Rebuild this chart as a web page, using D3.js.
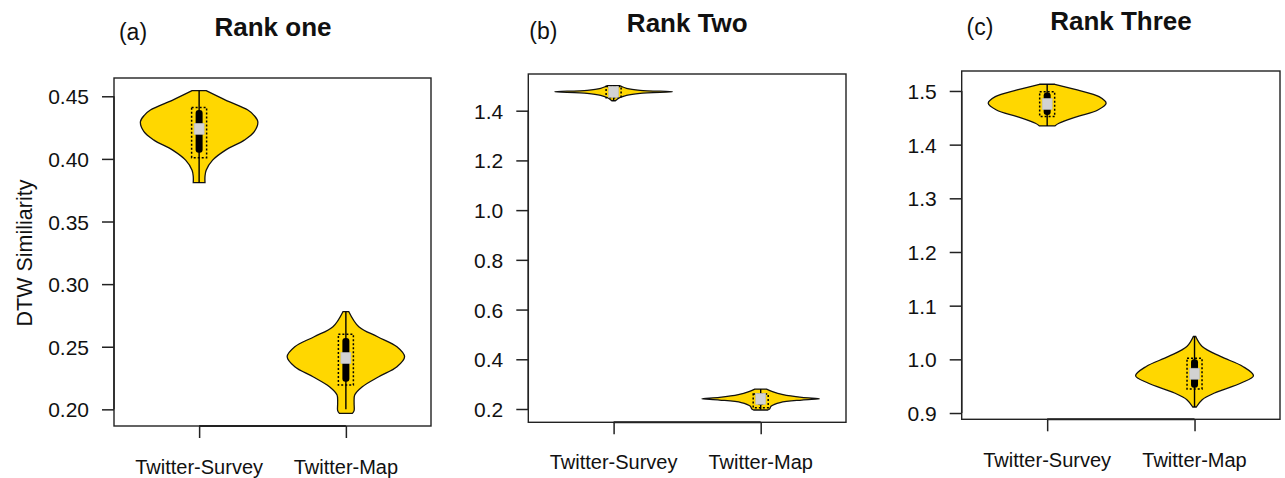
<!DOCTYPE html>
<html><head><meta charset="utf-8">
<script src="https://cdn.jsdelivr.net/npm/d3@7"></script>
<style>
body{margin:0;background:#fff}
svg{display:block}
text{font-family:"Liberation Sans",Arial,Helvetica,sans-serif;fill:#111}
</style>
</head><body>
<svg id="chart" width="1285" height="478"></svg>
<script>
// ---------------- data ----------------
const categories = ["Twitter-Survey", "Twitter-Map"];
const panelTags = ["(a)", "(b)", "(c)"];
const panelTitles = ["Rank one", "Rank Two", "Rank Three"];
const yAxisTitle = "DTW Similiarity";

const rankOneTicks = [0.20, 0.25, 0.30, 0.35, 0.40, 0.45];
const rankTwoTicks = [0.2, 0.4, 0.6, 0.8, 1.0, 1.2, 1.4];
const rankThreeTicks = [0.9, 1.0, 1.1, 1.2, 1.3, 1.4, 1.5];

// violin outlines: [value, relative density]
const rankOneSurveyDensity = [[0.381,0.10],[0.386,0.10],[0.391,0.12],[0.399,0.23],[0.407,0.45],[0.415,0.77],[0.4217,0.94],[0.4297,1.0],[0.435,0.93],[0.439,0.83],[0.447,0.45],[0.4545,0.12]];
const rankOneMapDensity = [[0.1968,0.11],[0.199,0.14],[0.205,0.14],[0.2114,0.15],[0.218,0.28],[0.226,0.56],[0.234,0.87],[0.242,1.0],[0.250,0.87],[0.258,0.54],[0.266,0.22],[0.278,0.05]];
const rankTwoSurveyDensity = [[1.440,0.03],[1.452,0.10],[1.462,0.22],[1.470,0.45],[1.476,1.0],[1.482,0.45],[1.490,0.22],[1.497,0.14],[1.501,0.10]];
const rankTwoMapDensity = [[0.196,0.12],[0.200,0.15],[0.212,0.18],[0.226,0.33],[0.236,0.7],[0.241,1.0],[0.247,0.7],[0.258,0.38],[0.270,0.2],[0.280,0.1]];
const rankThreeSurveyDensity = [[1.4349,0.13],[1.4398,0.2],[1.4522,0.51],[1.4646,0.86],[1.4771,1.0],[1.4894,0.88],[1.5019,0.51],[1.5125,0.13]];
const rankThreeMapDensity = [[0.9112,0.03],[0.9249,0.13],[0.9373,0.34],[0.9559,0.79],[0.9695,1.0],[0.9868,0.82],[1.0054,0.44],[1.024,0.13],[1.0426,0.02]];

// box stats: [whiskerLow, boxLow, q1, median, q3, boxHigh, whiskerHigh]
const rankOneSurveyStats = [0.381, 0.401, 0.405, 0.424, 0.439, 0.441, 0.4545];
const rankOneMapStats = [0.200, 0.2194, 0.222, 0.241, 0.257, 0.260, 0.278];
const rankTwoSurveyStats = [1.440, 1.452, 1.462, 1.476, 1.488, 1.497, 1.501];
const rankTwoMapStats = [0.198, 0.205, 0.215, 0.241, 0.255, 0.260, 0.280];
const rankThreeSurveyStats = [1.4349, 1.4522, 1.455, 1.4758, 1.497, 1.4987, 1.5125];
const rankThreeMapStats = [0.9112, 0.9447, 0.947, 0.9732, 1.000, 1.0019, 1.0426];

// ---------------- layout ----------------
const panels = [
  {tag: panelTags[0], title: panelTitles[0], ticks: rankOneTicks, fmt: d3.format(".2f"),
   domain: [0.1867, 0.4646], box: {l: 114, r: 431, t: 78, b: 426},
   tagPos: [133, 40], titlePos: [273, 36], xLabY: 474, ylab: true,
   violins: [rankOneSurveyDensity, rankOneMapDensity], stats: [rankOneSurveyStats, rankOneMapStats]},
  {tag: panelTags[1], title: panelTitles[1], ticks: rankTwoTicks, fmt: d3.format(".1f"),
   domain: [0.1465, 1.5476], box: {l: 528.3, r: 846, t: 74, b: 422.3},
   tagPos: [543.3, 38.5], titlePos: [687.3, 32], xLabY: 469, ylab: false,
   violins: [rankTwoSurveyDensity, rankTwoMapDensity], stats: [rankTwoSurveyStats, rankTwoMapStats]},
  {tag: panelTags[2], title: panelTitles[2], ticks: rankThreeTicks, fmt: d3.format(".1f"),
   domain: [0.8883, 1.5372], box: {l: 961.7, r: 1280, t: 71, b: 419.3},
   tagPos: [980, 34.5], titlePos: [1121, 29.5], xLabY: 467, ylab: false,
   violins: [rankThreeSurveyDensity, rankThreeMapDensity], stats: [rankThreeSurveyStats, rankThreeMapStats]}
];

const svg = d3.select("#chart");
const FILL = "#FFD700";

panels.forEach(p => {
  const g = svg.append("g");
  const x = d3.scaleLinear().domain([0.42, 2.58]).range([p.box.l, p.box.r]);
  const y = d3.scaleLinear().domain(p.domain).range([p.box.b, p.box.t]);
  const w = d3.scaleLinear().domain([0, 1]).range([0, x(1.4) - x(1)]);

  // violins
  p.violins.forEach((dens, i) => {
    const cx = x(i + 1);
    const area = d3.area()
      .y(d => y(d[0]))
      .x0(d => cx - w(d[1]))
      .x1(d => cx + w(d[1]))
      .curve(d3.curveCatmullRom.alpha(0.5));
    g.append("path").datum(dens).attr("d", area)
      .attr("fill", FILL).attr("stroke", "#111").attr("stroke-width", 1.3);

    const s = p.stats[i];
    // whisker line
    g.append("line").attr("x1", cx).attr("x2", cx)
      .attr("y1", y(s[0])).attr("y2", y(s[6]))
      .attr("stroke", "#000").attr("stroke-width", 1.4);
    // black bar (interquartile)
    g.append("rect").attr("x", cx - 3.5).attr("width", 7)
      .attr("y", y(s[4])).attr("height", y(s[2]) - y(s[4]))
      .attr("rx", 3).attr("fill", "#000");
    // dotted box
    g.append("rect").attr("x", cx - 7.5).attr("width", 15)
      .attr("y", y(s[5])).attr("height", y(s[1]) - y(s[5]))
      .attr("fill", "none").attr("stroke", "#000").attr("stroke-width", 1.5)
      .attr("stroke-dasharray", "2,2");
    // median square
    g.append("rect").attr("x", cx - 5).attr("width", 10)
      .attr("y", y(s[3]) - 5.5).attr("height", 11)
      .attr("fill", "#d2d2d2").attr("stroke", "#bbb").attr("stroke-width", 0.6);
  });

  // plot frame
  g.append("rect").attr("x", p.box.l).attr("y", p.box.t)
    .attr("width", p.box.r - p.box.l).attr("height", p.box.b - p.box.t)
    .attr("fill", "none").attr("stroke", "#222").attr("stroke-width", 1.4);

  // y axis
  const ya = g.append("g").attr("transform", `translate(${p.box.l},0)`)
    .call(d3.axisLeft(y).tickValues(p.ticks).tickFormat(p.fmt).tickSize(12).tickPadding(13));
  ya.select(".domain").remove();
  ya.selectAll(".tick line").attr("stroke", "#222").attr("stroke-width", 1.5);
  ya.selectAll(".tick text").attr("font-size", 21).attr("fill", "#111")
    .style("font-family", "'Liberation Sans', Arial, sans-serif").attr("dy", "0.36em");
  ya.append("line").attr("x1", 0).attr("x2", 0)
    .attr("y1", y(p.ticks[0])).attr("y2", y(p.ticks[p.ticks.length - 1]))
    .attr("stroke", "#222").attr("stroke-width", 1.5);

  // x axis
  const xa = g.append("g").attr("transform", `translate(0,${p.box.b})`)
    .call(d3.axisBottom(x).tickValues([1, 2]).tickFormat(() => "").tickSize(12));
  xa.select(".domain").remove();
  xa.selectAll(".tick line").attr("stroke", "#222").attr("stroke-width", 1.5);
  xa.append("line").attr("x1", x(1)).attr("x2", x(2)).attr("y1", 0).attr("y2", 0)
    .attr("stroke", "#222").attr("stroke-width", 2);

  categories.forEach((c, i) => {
    g.append("text").attr("x", x(i + 1)).attr("y", p.xLabY)
      .attr("text-anchor", "middle").attr("font-size", 20).text(c);
  });

  // titles
  g.append("text").attr("x", p.tagPos[0]).attr("y", p.tagPos[1])
    .attr("text-anchor", "middle").attr("font-size", 23).text(p.tag);
  g.append("text").attr("x", p.titlePos[0]).attr("y", p.titlePos[1])
    .attr("text-anchor", "middle").attr("font-size", 26).attr("font-weight", "bold").text(p.title);

  if (p.ylab) {
    g.append("text").attr("transform", `translate(32,253) rotate(-90)`)
      .attr("text-anchor", "middle").attr("font-size", 21.5).attr("fill", "#222").text(yAxisTitle);
  }
});
</script>
</body></html>
